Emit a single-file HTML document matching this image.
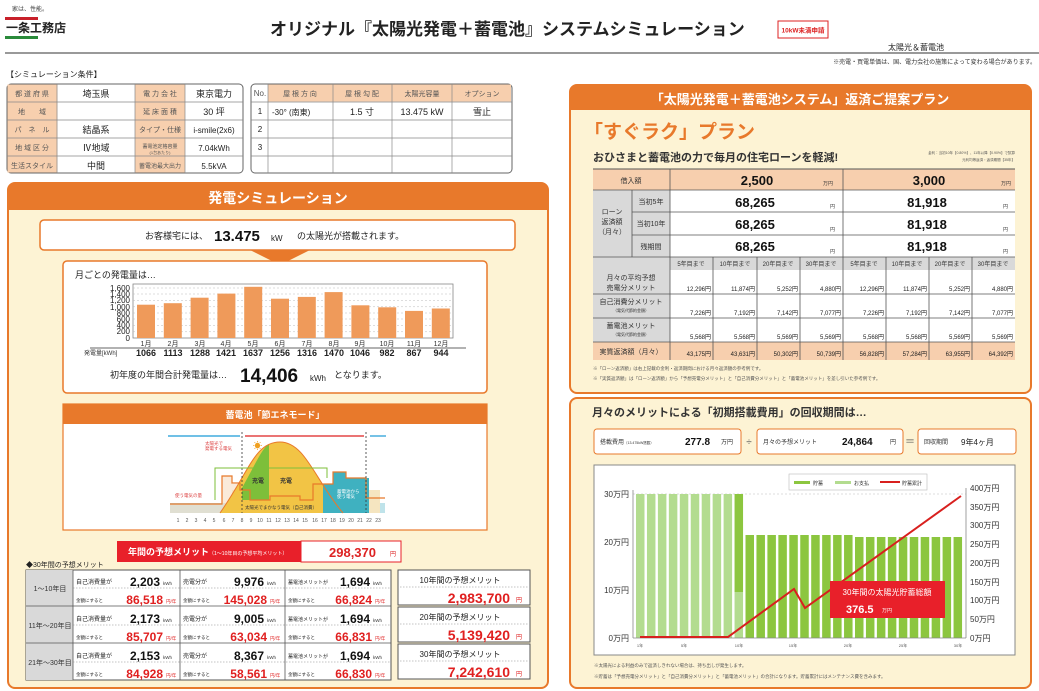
<!DOCTYPE html>
<html><head><meta charset="utf-8"><style>
html,body{margin:0;padding:0;background:#fff;}
svg{display:block;font-family:"Liberation Sans","Noto Sans CJK JP",sans-serif;}
</style></head><body>
<svg width="1039" height="691" viewBox="0 0 1039 691" xmlns="http://www.w3.org/2000/svg">
<!-- header -->
<text x="12" y="11" font-size="6" fill="#444">家は、性能。</text>
<rect x="5" y="17" width="33" height="3" fill="#c8202a"/>
<text x="6" y="32" font-size="12" font-weight="bold" fill="#222">一条工務店</text>
<rect x="5" y="36" width="33" height="3" fill="#2a8a3a"/>
<text x="270" y="35" font-size="17" font-weight="bold" fill="#222">オリジナル『太陽光発電＋蓄電池』システムシミュレーション</text>
<rect x="778" y="21" width="50" height="17" fill="#fff" stroke="#d22" stroke-width="1"/>
<text x="803" y="32.5" font-size="6.5" fill="#d22" text-anchor="middle" font-weight="bold">10kW未満申請</text>
<text x="888" y="50" font-size="8" fill="#222">太陽光＆蓄電池</text>
<rect x="5" y="52" width="1034" height="2" fill="#999"/>
<text x="1036" y="64" font-size="6" fill="#333" text-anchor="end">※売電・買電単価は、国、電力会社の施策によって変わる場合があります。</text>
<text x="6" y="77" font-size="8" fill="#222">【シミュレーション条件】</text>

<!-- condition table left -->
<g font-size="9" fill="#222">
<rect x="7" y="84" width="236" height="89" rx="4" fill="#fff" stroke="#666"/>
<rect x="7.5" y="84.5" width="50" height="88" fill="#f7cfae"/>
<rect x="135" y="84.5" width="50" height="88" fill="#f7cfae"/>
<g stroke="#888" stroke-width="0.7">
<line x1="7" y1="102" x2="243" y2="102"/><line x1="7" y1="120" x2="243" y2="120"/><line x1="7" y1="138" x2="243" y2="138"/><line x1="7" y1="156" x2="243" y2="156"/>
<line x1="57" y1="84" x2="57" y2="173"/><line x1="135" y1="84" x2="135" y2="173"/><line x1="185" y1="84" x2="185" y2="173"/>
</g>
<g font-size="7" fill="#555" text-anchor="middle">
<text x="32" y="96">都 道 府 県</text><text x="32" y="114">地　　域</text><text x="32" y="132">パ　ネ　ル</text><text x="32" y="150">地 域 区 分</text><text x="32" y="168">生活スタイル</text>
<text x="160" y="96">電 力 会 社</text><text x="160" y="114">延 床 面 積</text><text x="160" y="132">タイプ・仕様</text><text x="160" y="148" font-size="5">蓄電池定格容量</text><text x="160" y="154" font-size="4">(1台あたり)</text><text x="160" y="168" font-size="6">蓄電池最大出力</text>
</g>
<g text-anchor="middle">
<text x="96" y="97">埼玉県</text><text x="96" y="133">結晶系</text><text x="96" y="151">Ⅳ地域</text><text x="96" y="169">中間</text>
<text x="214" y="97">東京電力</text><text x="214" y="115">30 坪</text><text x="214" y="133" font-size="8">i-smile(2x6)</text><text x="214" y="151" font-size="8">7.04kWh</text><text x="214" y="169" font-size="8">5.5kVA</text>
</g>
<!-- right table -->
<rect x="251" y="84" width="261" height="89" rx="4" fill="#fff" stroke="#666"/>
<rect x="268" y="84.5" width="243" height="17" fill="#f7cfae"/>
<g stroke="#888" stroke-width="0.7">
<line x1="251" y1="102" x2="512" y2="102"/><line x1="251" y1="120" x2="512" y2="120"/><line x1="251" y1="138" x2="512" y2="138"/><line x1="251" y1="156" x2="512" y2="156"/>
<line x1="268" y1="84" x2="268" y2="173"/><line x1="333" y1="84" x2="333" y2="173"/><line x1="392" y1="84" x2="392" y2="173"/><line x1="452" y1="84" x2="452" y2="173"/>
</g>
<g font-size="7" fill="#555" text-anchor="middle">
<text x="260" y="96" font-size="8">No.</text><text x="300" y="96">屋 根 方 向</text><text x="362" y="96">屋 根 勾 配</text><text x="422" y="96">太陽光容量</text><text x="482" y="96">オプション</text>
</g>
<g font-size="8" text-anchor="middle"><text x="260" y="114">1</text><text x="260" y="132">2</text><text x="260" y="150">3</text></g>
<text x="272" y="115" font-size="8">-30° (南東)</text>
<text x="362" y="115" text-anchor="middle">1.5 寸</text>
<text x="422" y="115" text-anchor="middle">13.475 kW</text>
<text x="482" y="115" text-anchor="middle">雪止</text>
</g>

<!-- LEFT PANEL -->
<rect x="8" y="183" width="540" height="505" rx="7" fill="#fdf3d4" stroke="#e8792b" stroke-width="2"/>
<path d="M8 210 V190 a7 7 0 0 1 7 -7 H541 a7 7 0 0 1 7 7 V210 Z" fill="#e8792b"/>
<text x="278" y="203" font-size="14" font-weight="bold" fill="#fff" text-anchor="middle">発電シミュレーション</text>
<rect x="40" y="220" width="475" height="30" rx="4" fill="#fff" stroke="#e8792b" stroke-width="1.5"/>
<text x="145" y="239" font-size="9" fill="#222">お客様宅には、</text>
<text x="214" y="241" font-size="15" font-weight="bold" fill="#111">13.475</text>
<text x="271" y="241" font-size="8" fill="#222">kW</text>
<text x="297" y="239" font-size="9" fill="#222">の太陽光が搭載されます。</text>
<polygon points="250,250 310,250 280,265" fill="#e8792b"/>
<rect x="63" y="261" width="424" height="132" rx="4" fill="#fff" stroke="#e8792b" stroke-width="1.5"/>
<text x="75" y="278" font-size="9" fill="#222">月ごとの発電量は…</text>
<!-- gen chart -->
<rect x="133" y="284" width="320" height="54" fill="#fff" stroke="#888" stroke-width="0.8"/>
<g stroke="#bbb" stroke-width="0.5" stroke-dasharray="2,2">
<line x1="133" y1="288" x2="453" y2="288"/><line x1="133" y1="294" x2="453" y2="294"/><line x1="133" y1="300.5" x2="453" y2="300.5"/><line x1="133" y1="306.8" x2="453" y2="306.8"/><line x1="133" y1="313" x2="453" y2="313"/><line x1="133" y1="319" x2="453" y2="319"/><line x1="133" y1="325.5" x2="453" y2="325.5"/><line x1="133" y1="331.8" x2="453" y2="331.8"/>
</g>
<g font-size="8" fill="#222" text-anchor="end">
<text x="130" y="291">1,600</text><text x="130" y="297">1,400</text><text x="130" y="303">1,200</text><text x="130" y="310">1,000</text><text x="130" y="316">800</text><text x="130" y="322">600</text><text x="130" y="328">400</text><text x="130" y="334">200</text><text x="130" y="341">0</text>
</g>
<g fill="#ef9a5a">
<rect x="137" y="304.7" width="18" height="33.3"/><rect x="163.8" y="303.2" width="18" height="34.8"/><rect x="190.6" y="297.7" width="18" height="40.3"/><rect x="217.4" y="293.6" width="18" height="44.4"/><rect x="244.2" y="286.8" width="18" height="51.2"/><rect x="271" y="298.7" width="18" height="39.3"/><rect x="297.8" y="296.9" width="18" height="41.1"/><rect x="324.6" y="292.1" width="18" height="45.9"/><rect x="351.4" y="305.3" width="18" height="32.7"/><rect x="378.2" y="307.3" width="18" height="30.7"/><rect x="405" y="310.9" width="18" height="27.1"/><rect x="431.8" y="308.5" width="18" height="29.5"/>
</g>
<g font-size="7" fill="#333" text-anchor="middle">
<text x="146" y="346">1月</text><text x="173" y="346">2月</text><text x="200" y="346">3月</text><text x="226" y="346">4月</text><text x="253" y="346">5月</text><text x="280" y="346">6月</text><text x="307" y="346">7月</text><text x="334" y="346">8月</text><text x="360" y="346">9月</text><text x="387" y="346">10月</text><text x="414" y="346">11月</text><text x="441" y="346">12月</text>
</g>
<line x1="90" y1="348" x2="466" y2="348" stroke="#333" stroke-width="0.8"/>
<text x="84" y="355" font-size="6" fill="#333">発電量[kWh]</text>
<g font-size="9" font-weight="bold" fill="#222" text-anchor="middle">
<text x="146" y="356">1066</text><text x="173" y="356">1113</text><text x="200" y="356">1288</text><text x="226" y="356">1421</text><text x="253" y="356">1637</text><text x="280" y="356">1256</text><text x="307" y="356">1316</text><text x="334" y="356">1470</text><text x="360" y="356">1046</text><text x="387" y="356">982</text><text x="414" y="356">867</text><text x="441" y="356">944</text>
</g>
<text x="110" y="378" font-size="9" fill="#222">初年度の年間合計発電量は…</text>
<text x="240" y="382" font-size="19" font-weight="bold" fill="#111">14,406</text>
<text x="310" y="381" font-size="8" fill="#222">kWh</text>
<text x="334" y="378" font-size="9" fill="#222">となります。</text>
<!-- battery box -->
<rect x="63" y="404" width="424" height="126" fill="#fff" stroke="#e8792b" stroke-width="1.2"/>
<rect x="63" y="404" width="424" height="20" fill="#e8792b"/>
<text x="275" y="418" font-size="9" font-weight="bold" fill="#fff" text-anchor="middle">蓄電池「節エネモード」</text>
<rect x="170" y="503" width="215" height="10" fill="#bfe3ea"/>
<path d="M170 504 H222 V476 H232 V484 H242 V513 H170Z" fill="#f6dcc2" opacity="0.6"/>
<path d="M232 490 H380 V513 H232Z" fill="#f5e5c0"/>
<path d="M220 513 C250 470 255 442 280 442 C305 442 315 480 343 513 Z" fill="#f2c445"/>
<path d="M242 488 C255 465 262 448 269 444 V500 H242Z" fill="#7dbf3a"/>
<path d="M323 484 H333 V472 H346 V478 H369 V513 H323Z" fill="#3fb1c0"/>
<path d="M170 504 H222 V476 H232 V483 H240 V490 L250 490 V500 H270 V496 H300 V500 H313 V484 H333 V472 H346 V478 H366 V498 H385" fill="none" stroke="#e8792b" stroke-width="1.2"/>
<path d="M220 513 C250 470 255 442 280 442 C305 442 315 480 343 513" fill="none" stroke="#e8792b" stroke-width="1"/>
<line x1="242" y1="432" x2="242" y2="513" stroke="#333" stroke-dasharray="2,2" stroke-width="0.8"/>
<line x1="366" y1="432" x2="366" y2="513" stroke="#333" stroke-dasharray="2,2" stroke-width="0.8"/>
<line x1="168" y1="436" x2="240" y2="436" stroke="#1a9ad6" stroke-width="1.2"/>
<line x1="245" y1="436" x2="364" y2="436" stroke="#d22" stroke-width="1.2"/>
<line x1="370" y1="436" x2="386" y2="436" stroke="#1a9ad6" stroke-width="1.2"/>
<path d="M215 500 V468 H327 V478" fill="none" stroke="#7dbf3a" stroke-width="1"/>
<text x="205" y="445" font-size="4.5" fill="#d44">太陽光で</text><text x="205" y="450" font-size="4.5" fill="#d44">発電する電気</text>
<text x="253" y="449" font-size="9" fill="#f0a020">☀</text>
<text x="175" y="497" font-size="4.5" fill="#d44">使う電気の量</text>
<text x="252" y="483" font-size="6" font-weight="bold" fill="#333">充電</text><text x="280" y="483" font-size="6" font-weight="bold" fill="#333">充電</text>
<text x="337" y="493" font-size="4.5" fill="#fff">蓄電池から</text><text x="337" y="498" font-size="4.5" fill="#fff">使う電気</text>
<text x="245" y="509" font-size="4.5" fill="#333">太陽光でまかなう電気（自己消費）</text>
<g font-size="5" fill="#555" text-anchor="middle">
<text x="178" y="522">1</text><text x="187" y="522">2</text><text x="196" y="522">3</text><text x="205" y="522">4</text><text x="214" y="522">5</text><text x="224" y="522">6</text><text x="233" y="522">7</text><text x="242" y="522">8</text><text x="251" y="522">9</text><text x="260" y="522">10</text><text x="269" y="522">11</text><text x="278" y="522">12</text><text x="287" y="522">13</text><text x="296" y="522">14</text><text x="305" y="522">15</text><text x="315" y="522">16</text><text x="324" y="522">17</text><text x="333" y="522">18</text><text x="342" y="522">19</text><text x="351" y="522">20</text><text x="360" y="522">21</text><text x="369" y="522">22</text><text x="378" y="522">23</text>
</g>
<!-- annual merit -->
<rect x="117" y="541" width="184" height="21" fill="#e8202a"/>
<text x="128" y="555" font-size="9" font-weight="bold" fill="#fff">年間の予想メリット<tspan font-size="5" font-weight="normal">（1～10年目の予想平均メリット）</tspan></text>
<rect x="301" y="541" width="100" height="21" fill="#fff" stroke="#e8202a"/>
<text x="376" y="557" font-size="13" font-weight="bold" fill="#d22" text-anchor="end">298,370</text>
<text x="390" y="556" font-size="6" fill="#d22">円</text>
<text x="26" y="567" font-size="7" fill="#222">◆30年間の予想メリット</text>
<!-- 30yr table -->
<rect x="26" y="570" width="365" height="110" fill="#fff" stroke="#555"/>
<rect x="26" y="570" width="47" height="110" fill="#d9d9d9"/>
<g stroke="#555" stroke-width="0.8">
<line x1="26" y1="606" x2="391" y2="606"/><line x1="26" y1="643" x2="391" y2="643"/>
<line x1="73" y1="570" x2="73" y2="680"/><line x1="180" y1="570" x2="180" y2="680"/><line x1="285" y1="570" x2="285" y2="680"/>
</g>
<g stroke="#888" stroke-width="0.6" stroke-dasharray="1.5,1.5">
<line x1="73" y1="588" x2="391" y2="588"/><line x1="73" y1="625" x2="391" y2="625"/><line x1="73" y1="662" x2="391" y2="662"/>
</g>
<g font-size="7" fill="#333" text-anchor="middle"><text x="50" y="591">1～10年目</text><text x="50" y="628">11年～20年目</text><text x="50" y="665">21年～30年目</text></g>
<g font-size="6" fill="#222">
<text x="76" y="584">自己消費量が</text><text x="76" y="621">自己消費量が</text><text x="76" y="658">自己消費量が</text>
<text x="183" y="584">売電分が</text><text x="183" y="621">売電分が</text><text x="183" y="658">売電分が</text>
<text x="288" y="584" font-size="5">蓄電池メリットが</text><text x="288" y="621" font-size="5">蓄電池メリットが</text><text x="288" y="658" font-size="5">蓄電池メリットが</text>
<text x="76" y="602" font-size="4.5">金額にすると</text><text x="76" y="639" font-size="4.5">金額にすると</text><text x="76" y="676" font-size="4.5">金額にすると</text>
<text x="183" y="602" font-size="4.5">金額にすると</text><text x="183" y="639" font-size="4.5">金額にすると</text><text x="183" y="676" font-size="4.5">金額にすると</text>
<text x="288" y="602" font-size="4.5">金額にすると</text><text x="288" y="639" font-size="4.5">金額にすると</text><text x="288" y="676" font-size="4.5">金額にすると</text>
</g>
<g font-size="12" font-weight="bold" fill="#111" text-anchor="end">
<text x="160" y="586">2,203</text><text x="160" y="623">2,173</text><text x="160" y="660">2,153</text>
<text x="264" y="586">9,976</text><text x="264" y="623">9,005</text><text x="264" y="660">8,367</text>
<text x="370" y="586">1,694</text><text x="370" y="623">1,694</text><text x="370" y="660">1,694</text>
</g>
<g font-size="4.5" fill="#333"><text x="163" y="585">kWh</text><text x="163" y="622">kWh</text><text x="163" y="659">kWh</text><text x="267" y="585">kWh</text><text x="267" y="622">kWh</text><text x="267" y="659">kWh</text><text x="373" y="585">kWh</text><text x="373" y="622">kWh</text><text x="373" y="659">kWh</text></g>
<g font-size="12" font-weight="bold" fill="#e02020" text-anchor="end">
<text x="163" y="604">86,518</text><text x="163" y="641">85,707</text><text x="163" y="678">84,928</text>
<text x="267" y="604">145,028</text><text x="267" y="641">63,034</text><text x="267" y="678">58,561</text>
<text x="372" y="604">66,824</text><text x="372" y="641">66,831</text><text x="372" y="678">66,830</text>
</g>
<g font-size="4.5" fill="#e02020"><text x="166" y="603">円/年</text><text x="166" y="640">円/年</text><text x="166" y="677">円/年</text><text x="270" y="603">円/年</text><text x="270" y="640">円/年</text><text x="270" y="677">円/年</text><text x="375" y="603">円/年</text><text x="375" y="640">円/年</text><text x="375" y="677">円/年</text></g>
<g>
<rect x="398" y="570" width="132" height="35" fill="#fff" stroke="#555"/>
<rect x="398" y="607" width="132" height="35" fill="#fff" stroke="#555"/>
<rect x="398" y="644" width="132" height="35" fill="#fff" stroke="#555"/>
<g stroke="#888" stroke-width="0.6" stroke-dasharray="1.5,1.5"><line x1="400" y1="587" x2="528" y2="587"/><line x1="400" y1="624" x2="528" y2="624"/><line x1="400" y1="661" x2="528" y2="661"/></g>
<g font-size="8" fill="#222" text-anchor="middle"><text x="460" y="583">10年間の予想メリット</text><text x="460" y="620">20年間の予想メリット</text><text x="460" y="657">30年間の予想メリット</text></g>
<g font-size="14" font-weight="bold" fill="#e02020" text-anchor="end"><text x="510" y="603">2,983,700</text><text x="510" y="640">5,139,420</text><text x="510" y="677">7,242,610</text></g>
<g font-size="6" fill="#e02020"><text x="516" y="602">円</text><text x="516" y="639">円</text><text x="516" y="676">円</text></g>
</g>

<!-- RIGHT UPPER PANEL -->
<rect x="570" y="85" width="461" height="308" rx="7" fill="#fdf3d4" stroke="#e8792b" stroke-width="2"/>
<path d="M570 110 V92 a7 7 0 0 1 7 -7 H1024 a7 7 0 0 1 7 7 V110 Z" fill="#e8792b"/>
<text x="800" y="104" font-size="13" font-weight="bold" fill="#fff" text-anchor="middle">「太陽光発電＋蓄電池システム」返済ご提案プラン</text>
<text x="584" y="138" font-size="19" font-weight="bold" fill="#e8792b">「すぐラク」プラン</text>
<text x="593" y="161" font-size="11" font-weight="bold" fill="#333">おひさまと蓄電池の力で毎月の住宅ローンを軽減!</text>
<text x="1015" y="154" font-size="3.5" fill="#555" text-anchor="end">金利：当初10年【0.80%】、11年以降【0.90%】で試算</text>
<text x="1015" y="161" font-size="3.5" fill="#555" text-anchor="end">元利均等返済・返済期間【35年】</text>
<!-- loan table -->
<rect x="593" y="169" width="422" height="191" fill="#fff"/>
<rect x="593" y="169" width="422" height="21" fill="#f7cfae"/>
<rect x="593" y="190" width="77" height="67" fill="#d9d9d9"/>
<rect x="593" y="257" width="422" height="13" fill="#d9d9d9"/>
<rect x="593" y="270" width="77" height="72" fill="#d9d9d9"/>
<rect x="593" y="342" width="422" height="18" fill="#f7cfae"/>
<g stroke="#555" stroke-width="0.8">
<line x1="632" y1="212" x2="1015" y2="212"/><line x1="632" y1="235" x2="1015" y2="235"/>
<line x1="593" y1="257" x2="1015" y2="257"/><line x1="593" y1="294" x2="1015" y2="294"/><line x1="593" y1="318" x2="1015" y2="318"/><line x1="593" y1="342" x2="1015" y2="342"/><line x1="593" y1="190" x2="1015" y2="190"/>
<line x1="670" y1="169" x2="670" y2="360"/><line x1="843" y1="169" x2="843" y2="360"/><line x1="632" y1="190" x2="632" y2="257"/>
<line x1="713" y1="257" x2="713" y2="360"/><line x1="757" y1="257" x2="757" y2="360"/><line x1="800" y1="257" x2="800" y2="360"/>
<line x1="886" y1="257" x2="886" y2="360"/><line x1="929" y1="257" x2="929" y2="360"/><line x1="972" y1="257" x2="972" y2="360"/>
</g>
<line x1="593" y1="169" x2="1015" y2="169" stroke="#555"/>
<g font-size="7" fill="#333" text-anchor="middle">
<text x="631" y="183">借入額</text>
<text x="612" y="214">ローン</text><text x="612" y="224">返済額</text><text x="612" y="234">（月々）</text>
<text x="651" y="204">当初5年</text><text x="651" y="226">当初10年</text><text x="651" y="249">残期間</text>
<text x="631" y="280">月々の平均予想</text><text x="631" y="290">売電分メリット</text>
<text x="631" y="304">自己消費分メリット</text><text x="631" y="312" font-size="4">（電気代節約金額）</text>
<text x="631" y="328">蓄電池メリット</text><text x="631" y="336" font-size="4">（電気代節約金額）</text>
<text x="631" y="354">実質返済額（月々）</text>
</g>
<g font-size="13" font-weight="bold" fill="#111" text-anchor="middle">
<text x="757" y="185">2,500</text><text x="929" y="185">3,000</text>
<text x="755" y="207">68,265</text><text x="927" y="207">81,918</text>
<text x="755" y="229">68,265</text><text x="927" y="229">81,918</text>
<text x="755" y="251">68,265</text><text x="927" y="251">81,918</text>
</g>
<g font-size="5" fill="#333"><text x="823" y="185">万円</text><text x="1001" y="185">万円</text><text x="830" y="208">円</text><text x="1003" y="208">円</text><text x="830" y="231">円</text><text x="1003" y="231">円</text><text x="830" y="253">円</text><text x="1003" y="253">円</text></g>
<g font-size="6" fill="#333" text-anchor="middle">
<text x="691" y="266">5年目まで</text><text x="735" y="266">10年目まで</text><text x="778" y="266">20年目まで</text><text x="821" y="266">30年目まで</text>
<text x="864" y="266">5年目まで</text><text x="907" y="266">10年目まで</text><text x="950" y="266">20年目まで</text><text x="993" y="266">30年目まで</text>
</g>
<g font-size="6" fill="#222" text-anchor="end">
<text x="711" y="291">12,296円</text><text x="755" y="291">11,874円</text><text x="798" y="291">5,252円</text><text x="841" y="291">4,880円</text><text x="884" y="291">12,296円</text><text x="927" y="291">11,874円</text><text x="970" y="291">5,252円</text><text x="1013" y="291">4,880円</text>
<text x="711" y="315">7,226円</text><text x="755" y="315">7,192円</text><text x="798" y="315">7,142円</text><text x="841" y="315">7,077円</text><text x="884" y="315">7,226円</text><text x="927" y="315">7,192円</text><text x="970" y="315">7,142円</text><text x="1013" y="315">7,077円</text>
<text x="711" y="339">5,568円</text><text x="755" y="339">5,568円</text><text x="798" y="339">5,569円</text><text x="841" y="339">5,569円</text><text x="884" y="339">5,568円</text><text x="927" y="339">5,568円</text><text x="970" y="339">5,569円</text><text x="1013" y="339">5,569円</text>
<text x="711" y="356">43,175円</text><text x="755" y="356">43,631円</text><text x="798" y="356">50,302円</text><text x="841" y="356">50,739円</text><text x="884" y="356">56,828円</text><text x="927" y="356">57,284円</text><text x="970" y="356">63,955円</text><text x="1013" y="356">64,392円</text>
</g>
<text x="593" y="370" font-size="4.5" fill="#555">※「ローン返済額」は右上記載の金利・返済期間における月々返済額の参考例です。</text>
<text x="593" y="380" font-size="4.5" fill="#555">※「実質返済額」は「ローン返済額」から「予想売電分メリット」と「自己消費分メリット」と「蓄電池メリット」を差し引いた参考例です。</text>

<!-- RIGHT LOWER PANEL -->
<rect x="570" y="398" width="461" height="290" rx="7" fill="#fdf3d4" stroke="#e8792b" stroke-width="2"/>
<text x="592" y="416" font-size="11" font-weight="bold" fill="#333">月々のメリットによる「初期搭載費用」の回収期間は…</text>
<rect x="594" y="429" width="147" height="25" rx="3" fill="#fff" stroke="#e8792b"/>
<text x="600" y="444" font-size="6" fill="#333">搭載費用<tspan font-size="3.5">（13.475kW搭載）</tspan></text>
<text x="685" y="445" font-size="10" font-weight="bold" fill="#111">277.8</text><text x="721" y="444" font-size="6" fill="#333">万円</text>
<text x="749" y="445" font-size="10" fill="#555" text-anchor="middle">÷</text>
<rect x="757" y="429" width="146" height="25" rx="3" fill="#fff" stroke="#e8792b"/>
<text x="763" y="444" font-size="6" fill="#333">月々の予想メリット</text>
<text x="842" y="445" font-size="10" font-weight="bold" fill="#111">24,864</text><text x="890" y="444" font-size="6" fill="#333">円</text>
<text x="910" y="445" font-size="10" fill="#555" text-anchor="middle">＝</text>
<rect x="918" y="429" width="98" height="25" rx="3" fill="#fff" stroke="#e8792b"/>
<text x="924" y="444" font-size="6" fill="#333">回収期間</text><text x="961" y="445" font-size="8" fill="#222">9年4ヶ月</text>
<!-- payback chart -->
<rect x="594" y="465" width="421" height="190" fill="#fff" stroke="#888"/>
<line x1="633" y1="494" x2="966" y2="494" stroke="#bbb" stroke-dasharray="2,2" stroke-width="0.6"/>
<g fill="#b3dc8f">
<rect x="636" y="494" width="8.5" height="144"/><rect x="646.95" y="494" width="8.5" height="144"/><rect x="657.9" y="494" width="8.5" height="144"/><rect x="668.85" y="494" width="8.5" height="144"/><rect x="679.8" y="494" width="8.5" height="144"/><rect x="690.75" y="494" width="8.5" height="144"/><rect x="701.7" y="494" width="8.5" height="144"/><rect x="712.65" y="494" width="8.5" height="144"/><rect x="723.6" y="494" width="8.5" height="144"/><rect x="734.55" y="592" width="8.5" height="46"/>
</g>
<g fill="#8cc63f">
<rect x="734.55" y="494" width="8.5" height="98"/>
<rect x="745.5" y="535" width="8.5" height="103"/><rect x="756.45" y="535" width="8.5" height="103"/><rect x="767.4" y="535" width="8.5" height="103"/><rect x="778.35" y="535" width="8.5" height="103"/><rect x="789.3" y="535" width="8.5" height="103"/><rect x="800.25" y="535" width="8.5" height="103"/><rect x="811.2" y="535" width="8.5" height="103"/><rect x="822.15" y="535" width="8.5" height="103"/><rect x="833.1" y="535" width="8.5" height="103"/><rect x="844.05" y="535" width="8.5" height="103"/>
<rect x="855" y="537" width="8.5" height="101"/><rect x="865.95" y="537" width="8.5" height="101"/><rect x="876.9" y="537" width="8.5" height="101"/><rect x="887.85" y="537" width="8.5" height="101"/><rect x="898.8" y="537" width="8.5" height="101"/><rect x="909.75" y="537" width="8.5" height="101"/><rect x="920.7" y="537" width="8.5" height="101"/><rect x="931.65" y="537" width="8.5" height="101"/><rect x="942.6" y="537" width="8.5" height="101"/><rect x="953.55" y="537" width="8.5" height="101"/>
</g>
<line x1="633" y1="490" x2="633" y2="638" stroke="#888" stroke-width="0.8"/>
<line x1="966" y1="488" x2="966" y2="638" stroke="#888" stroke-width="0.8"/>
<line x1="633" y1="638" x2="966" y2="638" stroke="#888" stroke-width="0.8"/>
<polyline points="640,637 728,637 794,589 805,608 961,496" fill="none" stroke="#d8201e" stroke-width="2"/>
<g font-size="8" fill="#333" text-anchor="end">
<text x="629" y="497">30万円</text><text x="629" y="545">20万円</text><text x="629" y="593">10万円</text><text x="629" y="641">0万円</text>
</g>
<g font-size="8" fill="#333">
<text x="970" y="491">400万円</text><text x="970" y="510">350万円</text><text x="970" y="528">300万円</text><text x="970" y="547">250万円</text><text x="970" y="566">200万円</text><text x="970" y="585">150万円</text><text x="970" y="603">100万円</text><text x="970" y="622">50万円</text><text x="970" y="641">0万円</text>
</g>
<g font-size="4" fill="#555" text-anchor="middle"><text x="640" y="647">1年</text><text x="684" y="647">5年</text><text x="739" y="647">10年</text><text x="793" y="647">15年</text><text x="848" y="647">20年</text><text x="903" y="647">25年</text><text x="958" y="647">30年</text></g>
<rect x="789" y="474" width="138" height="16" fill="#fff" stroke="#bbb" stroke-width="0.6"/>
<rect x="794" y="481" width="16" height="3" fill="#8cc63f"/><text x="813" y="485" font-size="5" fill="#333">貯蓄</text>
<rect x="835" y="481" width="16" height="3" fill="#b3dc8f"/><text x="854" y="485" font-size="5" fill="#333">お支払</text>
<rect x="880" y="481" width="20" height="2" fill="#d8201e"/><text x="902" y="485" font-size="5" fill="#333">貯蓄累計</text>
<rect x="830" y="581" width="115" height="37" fill="#e8202a"/>
<text x="887" y="595" font-size="8" fill="#fff" text-anchor="middle">30年間の太陽光貯蓄総額</text>
<text x="846" y="613" font-size="11" font-weight="bold" fill="#fff">376.5</text><text x="882" y="612" font-size="5" fill="#fff">万円</text>
<text x="594" y="667" font-size="4.5" fill="#555">※太陽光による利益のみで返済しきれない場合は、持ち出しが発生します。</text>
<text x="594" y="678" font-size="4.5" fill="#555">※貯蓄は「予想売電分メリット」と「自己消費分メリット」と「蓄電池メリット」の合計になります。貯蓄累計にはメンテナンス費を含みます。</text>
</svg>
</body></html>
